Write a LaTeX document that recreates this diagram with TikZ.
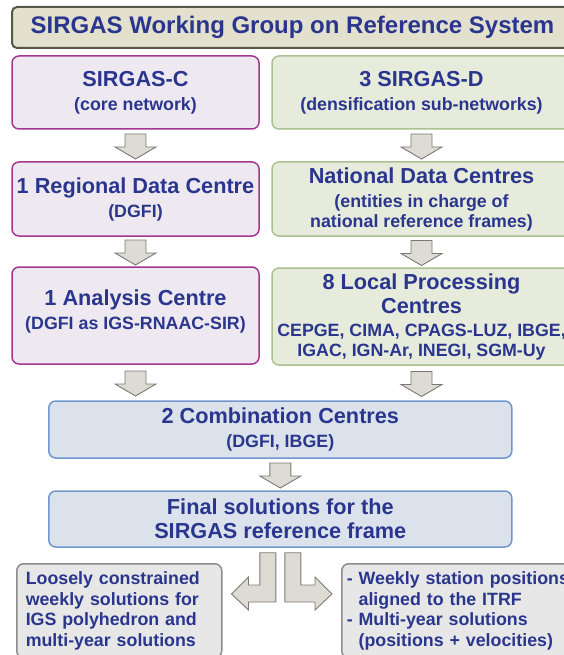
\documentclass[tikz,border=0pt]{standalone}
\usepackage{fontspec}
\setmainfont{Liberation Sans}
\usepackage{xcolor}
\usetikzlibrary{calc}

\definecolor{sirtext}{RGB}{42,54,142}
\definecolor{titlefill}{RGB}{227,224,206}
\definecolor{titledraw}{RGB}{88,88,72}
\definecolor{corefill}{RGB}{238,233,240}
\definecolor{coredraw}{RGB}{164,54,146}
\definecolor{densfill}{RGB}{230,235,220}
\definecolor{densdraw}{RGB}{170,194,146}
\definecolor{combfill}{RGB}{219,226,235}
\definecolor{combdraw}{RGB}{112,150,204}
\definecolor{outfill}{RGB}{231,231,231}
\definecolor{outdraw}{RGB}{140,140,140}
\definecolor{arrfill}{RGB}{221,219,212}
\definecolor{arrdraw}{RGB}{122,122,114}

\newcommand{\tfont}{\fontsize{24}{26}\selectfont\bfseries}
\newcommand{\hfont}{\fontsize{21.7}{24}\selectfont\bfseries}
\newcommand{\sfont}{\fontsize{17.8}{20.5}\selectfont\bfseries}

% fat grey arrow centred in the gap between two boxes
\newcommand{\fatdown}[2]{%
  \draw[fatarrow] let \p1=(#1.south), \p2=(#1.south |- #2.north), \p3=($(\p1)!.5!(\p2)$) in
    (\x3-10.5pt,\y3+11.5pt) -- (\x3+10.5pt,\y3+11.5pt) -- (\x3+10.5pt,\y3-1.5pt)
    -- (\x3+20.5pt,\y3-1.5pt) -- (\x3,\y3-13.5pt) -- (\x3-20.5pt,\y3-1.5pt)
    -- (\x3-10.5pt,\y3-1.5pt) -- cycle;}

\begin{document}
\begin{tikzpicture}[x=1pt, y=-1pt,
  box/.style={rounded corners=7pt, line width=1.5pt, text=sirtext, align=center,
    font=\hfont, inner sep=0pt},
  titlebox/.style={box, draw=titledraw, fill=titlefill, line width=2pt, rounded corners=5pt,
    font=\tfont},
  corebox/.style={box, draw=coredraw, fill=corefill, minimum width=247pt},
  densbox/.style={box, draw=densdraw, fill=densfill, minimum width=299pt},
  combbox/.style={box, draw=combdraw, fill=combfill, minimum width=463pt},
  outbox/.style={box, draw=outdraw, fill=outfill, font=\sfont, align=left,
    minimum height=94pt, anchor=north west},
  fatarrow/.style={draw=arrdraw, fill=arrfill, line width=0.9pt, line join=miter}]
\useasboundingbox (0,0) rectangle (564,655);
\clip (0,0) rectangle (564,655);

\node[titlebox, minimum width=561pt, minimum height=41pt] (title) at (292.5,27.5)
  {SIRGAS Working Group on Reference System};

\node[corebox, minimum height=73pt] (core) at (135.5,92.5)
  {SIRGAS-C\\{\sfont (core network)}};
\node[densbox, minimum height=73pt] (dens) at (421.5,92.5)
  {3 SIRGAS-D\\{\sfont (densification sub-networks)}};

\node[corebox, minimum height=74pt] (rdc) at (135.5,199)
  {1 Regional Data Centre\\{\sfont (DGFI)}};
\node[densbox, minimum height=74pt] (ndc) at (421.5,199)
  {National Data Centres\\{\sfont (entities in charge of}\\[-4pt]{\sfont national reference frames)}};

\node[corebox, minimum height=97pt] (ac) at (135.5,315.5) {};
\node[box] (actext) at ([yshift=4pt]ac.center)
  {1 Analysis Centre\\{\sfont (DGFI as IGS-RNAAC-SIR)}};
\node[densbox, minimum height=97pt] (lpc) at (421.5,316.5)
  {8 Local Processing\\Centres\\[-1pt]{\sfont CEPGE, CIMA, CPAGS-LUZ, IBGE,}\\[-4pt]{\sfont IGAC, IGN-Ar, INEGI, SGM-Uy}};

\node[combbox, minimum height=57pt] (comb) at (280.3,429.5)
  {2 Combination Centres\\{\sfont (DGFI, IBGE)}};
\node[combbox, minimum height=56pt] (fin) at (280.3,519)
  {Final solutions for the\\SIRGAS reference frame};

\node[outbox, text width=187pt, minimum width=205pt, inner xsep=9pt] (loose) at (16,563)
  {Loosely constrained\\weekly solutions for\\IGS polyhedron and\\multi-year solutions};
\node[outbox, text width=239pt, minimum width=249pt, inner xsep=5pt] (weekly) at (341,563)
  {- Weekly station positions\\\hphantom{- }aligned to the ITRF\\- Multi-year solutions\\\hphantom{- }(positions + velocities)};

\fatdown{core}{rdc}
\fatdown{dens}{ndc}
\fatdown{rdc}{ac}
\fatdown{ndc}{lpc}
\fatdown{ac}{comb}
\fatdown{lpc}{comb}
\fatdown{comb}{fin}

% split arrows to the two products
\draw[fatarrow] let \p1=(fin.south), \p2=(loose.north east) in
  (\x1-20.5pt,\y1-5pt) -- (\x1-4.5pt,\y1-5pt) -- (\x1-4.5pt,\y2-39pt) -- (\x2+26pt,\y2-39pt)
  -- (\x2+26pt,\y2-47pt) -- (\x2+9pt,\y2-31pt) -- (\x2+26pt,\y2-14pt) -- (\x2+26pt,\y2-22pt)
  -- (\x1-20.5pt,\y2-22pt) -- cycle;
\draw[fatarrow] let \p1=(fin.south), \p2=(weekly.north west) in
  (\x1+20.5pt,\y1-5pt) -- (\x1+4.5pt,\y1-5pt) -- (\x1+4.5pt,\y2-39pt) -- (\x2-26pt,\y2-39pt)
  -- (\x2-26pt,\y2-47pt) -- (\x2-9pt,\y2-31pt) -- (\x2-26pt,\y2-14pt) -- (\x2-26pt,\y2-22pt)
  -- (\x1+20.5pt,\y2-22pt) -- cycle;
\end{tikzpicture}
\end{document}
